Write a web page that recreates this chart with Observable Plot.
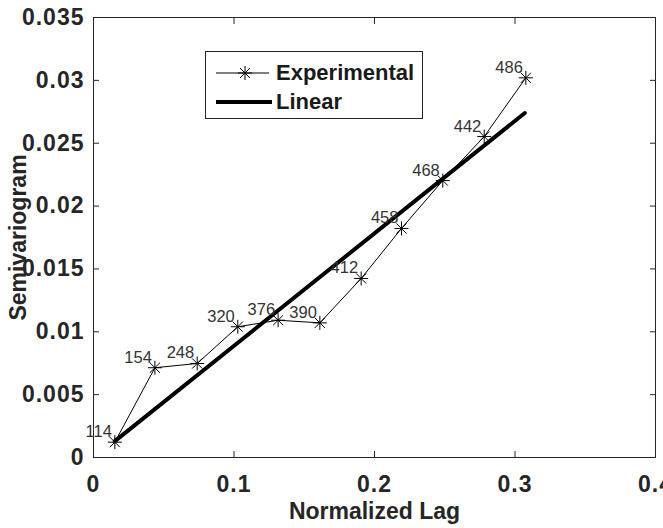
<!DOCTYPE html>
<html>
<head>
<meta charset="utf-8">
<script src="https://cdn.jsdelivr.net/npm/d3@7"></script>
<script src="https://cdn.jsdelivr.net/npm/@observablehq/plot@0.6"></script>
<style>
  html, body { margin: 0; padding: 0; background: #fff; }
  #wrap { position: relative; width: 663px; height: 528px; overflow: hidden; }
  #legend { position: absolute; left: 205px; top: 51px; width: 218px; height: 68px;
    border: 1px solid #262626; background: #fff; box-sizing: border-box;
    font-family: "Liberation Sans", Arial, sans-serif; font-weight: bold; font-size: 22px; color: #1a1a1a; }
  #legend svg { position: absolute; left: 0; top: 0; }
  #legend .t { position: absolute; left: 70px; line-height: 22px; }
  #chart g[aria-label="x-axis tick label"] text,
  #chart g[aria-label="y-axis tick label"] text,
  #chart g[aria-label="axis title"] text { letter-spacing: 1px; }
</style>
</head>
<body>
<div id="wrap">
  <div id="chart"></div>
  <div id="legend">
    <svg width="72" height="66">
      <line x1="10" x2="63" y1="21" y2="21" stroke="#000" stroke-width="1"/>
      <g stroke="#000" stroke-width="1">
        <line x1="32" x2="46" y1="21" y2="21"/>
        <line x1="39" x2="39" y1="14" y2="28"/>
        <line x1="34" x2="44" y1="16" y2="26"/>
        <line x1="34" x2="44" y1="26" y2="16"/>
      </g>
      <line x1="10" x2="66" y1="50" y2="50" stroke="#000" stroke-width="4"/>
    </svg>
    <div class="t" style="top:10px">Experimental</div>
    <div class="t" style="top:39px">Linear</div>
  </div>
</div>
<script>
// Data
const lag   = [0.0152, 0.0437, 0.0738, 0.1027, 0.1314, 0.1611, 0.1905, 0.2192, 0.2486, 0.2781, 0.3077];
const gamma = [0.00122, 0.00714, 0.00748, 0.0104, 0.01092, 0.01071, 0.01424, 0.01822, 0.02203, 0.02553, 0.0302];
const pairs = [114, 154, 248, 320, 376, 390, 412, 458, 468, 442, 486];
const linearLag   = [0.0152, 0.307];
const linearGamma = [0.0013, 0.0274];
const xTicks = [0, 0.1, 0.2, 0.3, 0.4];
const yTicks = [0, 0.005, 0.01, 0.015, 0.02, 0.025, 0.03, 0.035];

const exp = lag.map((x, i) => ({x, y: gamma[i], n: pairs[i]}));
const lin = linearLag.map((x, i) => ({x, y: linearGamma[i]}));

const asterisk = {
  draw(ctx, size) {
    const r = Math.sqrt(size / Math.PI);
    const d = r * 0.72;
    ctx.moveTo(-r, 0); ctx.lineTo(r, 0);
    ctx.moveTo(0, -r); ctx.lineTo(0, r);
    ctx.moveTo(-d, -d); ctx.lineTo(d, d);
    ctx.moveTo(-d, d); ctx.lineTo(d, -d);
  }
};

const fmt = d => d === 0 ? "0" : String(Number(d.toFixed(4)));
const axisColor = "#262626";
const font = "Liberation Sans, Arial, sans-serif";

const chart = Plot.plot({
  width: 663,
  height: 528,
  marginLeft: 93,
  marginRight: 8,
  marginTop: 17,
  marginBottom: 71,
  style: { fontFamily: font, background: "#fff", overflow: "visible", color: axisColor },
  x: { domain: [0, 0.4], label: null },
  y: { domain: [0, 0.035], label: null },
  marks: [
    Plot.frame({ stroke: axisColor, strokeWidth: 1 }),
    // inward ticks on all four sides
    Plot.axisX(xTicks, { anchor: "bottom", tickSize: -6, tickFormat: () => "", stroke: axisColor }),
    Plot.axisX(xTicks, { anchor: "top", tickSize: -6, tickFormat: () => "", stroke: axisColor }),
    Plot.axisY(yTicks, { anchor: "left", tickSize: -6, tickFormat: () => "", stroke: axisColor }),
    Plot.axisY(yTicks, { anchor: "right", tickSize: -6, tickFormat: () => "", stroke: axisColor }),
    // tick labels
    Plot.axisX(xTicks, { anchor: "bottom", tickSize: 0, tickPadding: 18, tickFormat: fmt,
      fontSize: 23, fontWeight: "bold", fill: axisColor }),
    Plot.axisY(yTicks, { anchor: "left", tickSize: 0, tickPadding: 9, tickFormat: fmt,
      fontSize: 23, fontWeight: "bold", fill: axisColor }),
    // axis titles
    Plot.text(["Normalized Lag"], { frameAnchor: "bottom", dy: 54, lineAnchor: "middle", textAnchor: "middle",
      text: d => d, fontSize: 23, fontWeight: "bold", fill: axisColor, ariaLabel: "axis title" }),
    Plot.text(["Semivariogram"], { frameAnchor: "left", dx: -75, rotate: -90, lineAnchor: "middle", textAnchor: "middle",
      text: d => d, fontSize: 23, fontWeight: "bold", fill: axisColor, ariaLabel: "axis title" }),
    // data
    Plot.line(lin, { x: "x", y: "y", stroke: "#000", strokeWidth: 4 }),
    Plot.line(exp, { x: "x", y: "y", stroke: "#000", strokeWidth: 1 }),
    Plot.dot(exp, { x: "x", y: "y", r: 7, symbol: asterisk, stroke: "#000", fill: "none", strokeWidth: 1 }),
    Plot.text(exp, { x: "x", y: "y", text: d => String(d.n), textAnchor: "end", lineAnchor: "bottom",
      dx: -3, dy: -5, fontSize: 16.5, fill: "#333" })
  ]
});
document.getElementById("chart").appendChild(chart);
</script>
</body>
</html>
